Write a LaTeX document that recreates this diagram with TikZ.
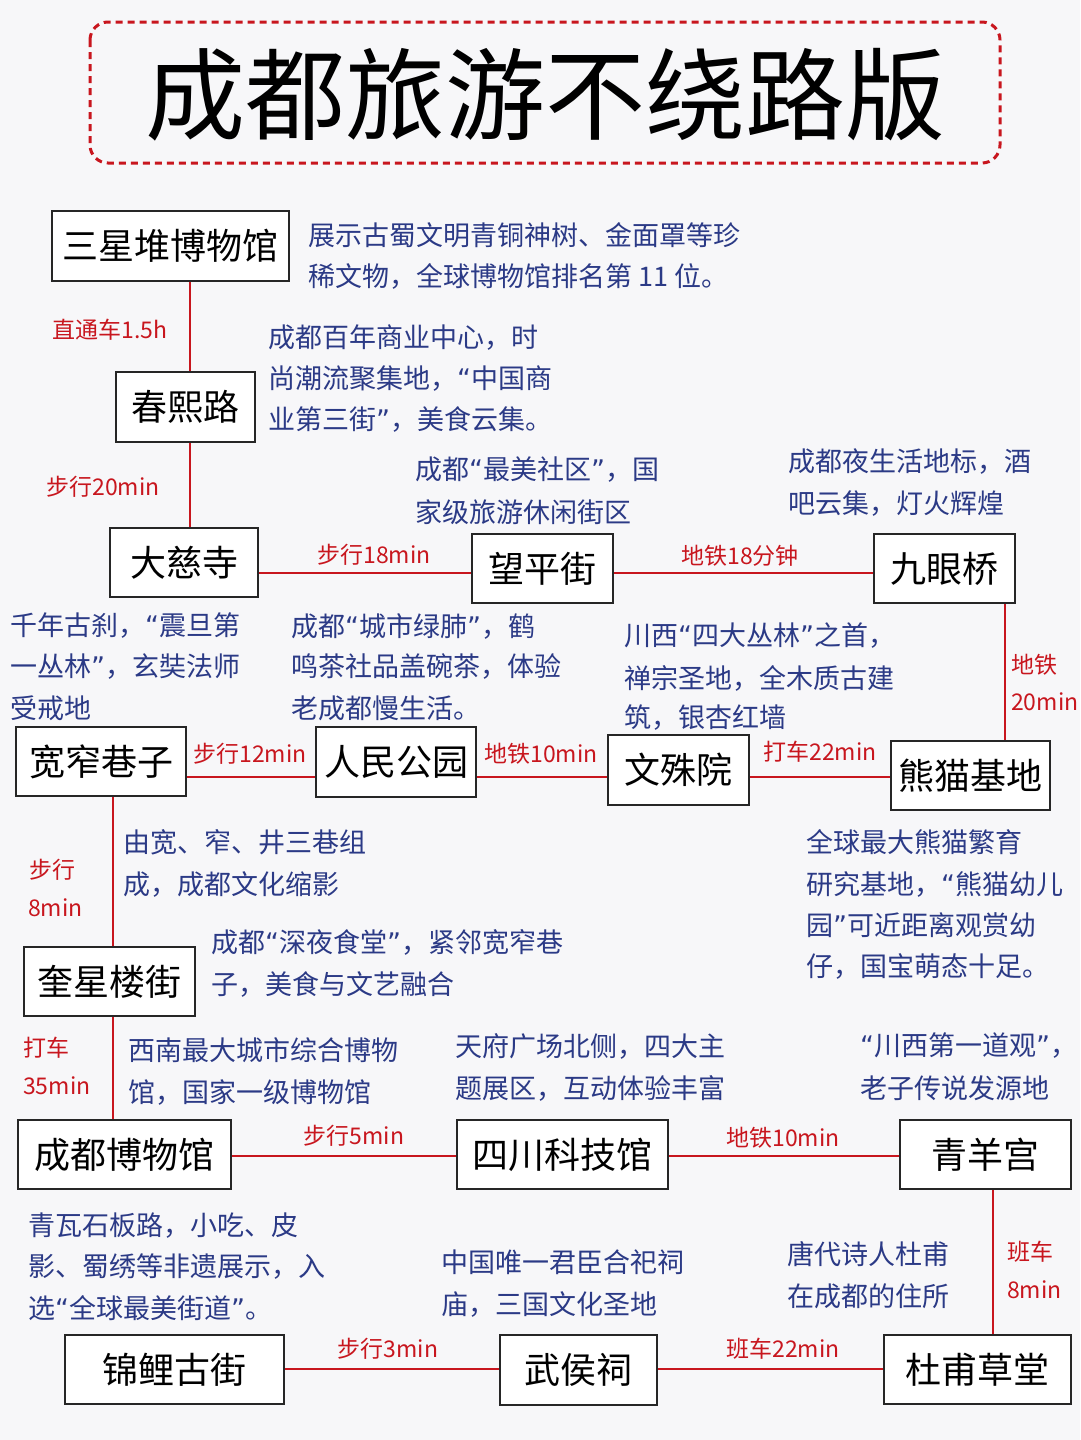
\documentclass[tikz,border=0pt]{standalone}
\usepackage{fontspec}
\setmainfont{Noto Sans CJK SC}
\newfontfamily\latq{DejaVu Sans}
\newcommand{\lqq}{{\latq “}}
\newcommand{\rqq}{{\latq ”}}
\definecolor{bgc}{HTML}{F7F7F9}
\definecolor{redc}{HTML}{C8161E}
\definecolor{bluec}{HTML}{2B3A86}
\tikzset{
 box/.style={draw=black!85,line width=1.3pt,fill=white,inner sep=0pt,font=\fontsize{36}{36}\selectfont},
 desc/.style={anchor=west,inner sep=0pt,text=bluec,font=\fontsize{27}{27}\selectfont},
 lab/.style={inner sep=0pt,text=redc,font=\fontsize{23}{23}\selectfont},
 con/.style={draw=redc,line width=2.2pt}
}
\newcommand{\bx}[5]{\node[box,minimum width=#3-#1,minimum height=#4-#2] (#5) at ({(#1+#3)/2},{(#2+#4)/2})}
\begin{document}
\begin{tikzpicture}[x=1pt,y=-1pt]
\fill[bgc] (0,0) rectangle (1080,1440);
\useasboundingbox (0,0) rectangle (1080,1440);
\draw[redc,dashed,line width=3pt,dash pattern=on 7pt off 5pt,rounded corners=18pt] (90,22) rectangle (1000,163);
\node[font=\fontsize{100}{100}\selectfont] (title) at (545,95) {成都旅游不绕路版};
% connectors first
\coordinate (a1) at (190,281); \coordinate (a2) at (190,372);
\coordinate (a3) at (190,442); \coordinate (a4) at (190,528);
\draw[con] (a1) -- (a2); \draw[con] (a3) -- (a4);
\coordinate (b1) at (258,573); \coordinate (b2) at (472,573); \coordinate (b3) at (613,573); \coordinate (b4) at (874,573);
\draw[con] (b1) -- (b2); \draw[con] (b3) -- (b4);
\coordinate (c1) at (1005,603); \coordinate (c2) at (1005,741);
\draw[con] (c1) -- (c2);
\coordinate (d1) at (186,777); \coordinate (d2) at (316,777); \coordinate (d3) at (476,777); \coordinate (d4) at (608,777); \coordinate (d5) at (749,777); \coordinate (d6) at (891,777);
\draw[con] (d1) -- (d2); \draw[con] (d3) -- (d4); \draw[con] (d5) -- (d6);
\coordinate (e1) at (113,796); \coordinate (e2) at (113,947); \coordinate (e3) at (113,1016); \coordinate (e4) at (113,1120);
\draw[con] (e1) -- (e2); \draw[con] (e3) -- (e4);
\coordinate (f1) at (231,1156); \coordinate (f2) at (457,1156); \coordinate (f3) at (668,1156); \coordinate (f4) at (900,1156);
\draw[con] (f1) -- (f2); \draw[con] (f3) -- (f4);
\coordinate (g1) at (993,1189); \coordinate (g2) at (993,1335);
\draw[con] (g1) -- (g2);
\coordinate (h1) at (284,1369); \coordinate (h2) at (500,1369); \coordinate (h3) at (657,1369); \coordinate (h4) at (884,1369);
\draw[con] (h1) -- (h2); \draw[con] (h3) -- (h4);
% boxes
\bx{52}{211}{289}{281}{sxd} {三星堆博物馆};
\bx{116}{372}{255}{442}{cxl} {春熙路};
\bx{110}{528}{258}{597}{dcs} {大慈寺};
\bx{472}{534}{613}{603}{wpj} {望平街};
\bx{874}{534}{1015}{603}{jyq} {九眼桥};
\bx{16}{727}{186}{796}{kzxz} {宽窄巷子};
\bx{316}{727}{476}{797}{rmgy} {人民公园};
\bx{608}{735}{749}{805}{wsy} {文殊院};
\bx{891}{741}{1050}{810}{xmjd} {熊猫基地};
\bx{24}{947}{195}{1016}{kxlj} {奎星楼街};
\bx{18}{1120}{231}{1189}{cdbwg} {成都博物馆};
\bx{457}{1120}{668}{1189}{sckjg} {四川科技馆};
\bx{900}{1120}{1071}{1189}{qyg} {青羊宫};
\bx{65}{1335}{284}{1404}{jlgj} {锦鲤古街};
\bx{500}{1335}{657}{1405}{whc} {武侯祠};
\bx{884}{1335}{1071}{1404}{dfct} {杜甫草堂};
% red labels
\node[lab] (l1) at (110,330) {直通车1.5h};
\node[lab] (l2) at (103,487) {步行20min};
\node[lab] (l3) at (374,555) {步行18min};
\node[lab] (l4) at (740,556) {地铁18分钟};
\node[lab,anchor=west] (l5a) at (1011,665) {地铁};
\node[lab,anchor=west] (l5b) at (1011,702) {20min};
\node[lab] (l6) at (250,754) {步行12min};
\node[lab] (l7) at (541,754) {地铁10min};
\node[lab] (l8) at (820,752) {打车22min};
\node[lab,anchor=west] (l9a) at (29,870) {步行};
\node[lab,anchor=west] (l9b) at (28,908) {8min};
\node[lab,anchor=west] (l10a) at (23,1048) {打车};
\node[lab,anchor=west] (l10b) at (23,1086) {35min};
\node[lab] (l11) at (354,1136) {步行5min};
\node[lab] (l12) at (783,1138) {地铁10min};
\node[lab,anchor=west] (l13a) at (1007,1252) {班车};
\node[lab,anchor=west] (l13b) at (1007,1290) {8min};
\node[lab] (l14) at (388,1349) {步行3min};
\node[lab] (l15) at (783,1349) {班车22min};
% descriptions
\node[desc] (t1a) at (308,235) {展示古蜀文明青铜神树、金面罩等珍};
\node[desc] (t1b) at (308,276) {稀文物，全球博物馆排名第 11 位。};
\node[desc] (t2a) at (268,338) {成都百年商业中心，时};
\node[desc] (t2b) at (268,379) {尚潮流聚集地，\lqq 中国商};
\node[desc] (t2c) at (268,420) {业第三街\rqq，美食云集。};
\node[desc] (t3a) at (415,470) {成都\lqq 最美社区\rqq，国};
\node[desc] (t3b) at (415,512) {家级旅游休闲街区};
\node[desc] (t4a) at (788,462) {成都夜生活地标，酒};
\node[desc] (t4b) at (788,504) {吧云集，灯火辉煌};
\node[desc] (t5a) at (10,626) {千年古刹，\lqq 震旦第};
\node[desc] (t5b) at (10,667) {一丛林\rqq，玄奘法师};
\node[desc] (t5c) at (10,708) {受戒地};
\node[desc] (t6a) at (291,626) {成都\lqq 城市绿肺\rqq，鹤};
\node[desc] (t6b) at (291,667) {鸣茶社品盖碗茶，体验};
\node[desc] (t6c) at (291,708) {老成都慢生活。};
\node[desc] (t7a) at (624,636) {川西\lqq 四大丛林\rqq 之首，};
\node[desc] (t7b) at (624,678) {禅宗圣地，全木质古建};
\node[desc] (t7c) at (624,718) {筑，银杏红墙};
\node[desc] (t8a) at (123,842) {由宽、窄、井三巷组};
\node[desc] (t8b) at (123,884) {成，成都文化缩影};
\node[desc] (t9a) at (806,842) {全球最大熊猫繁育};
\node[desc] (t9b) at (806,884) {研究基地，\lqq 熊猫幼儿};
\node[desc] (t9c) at (806,925) {园\rqq 可近距离观赏幼};
\node[desc] (t9d) at (806,966) {仔，国宝萌态十足。};
\node[desc] (t10a) at (211,942) {成都\lqq 深夜食堂\rqq，紧邻宽窄巷};
\node[desc] (t10b) at (211,984) {子，美食与文艺融合};
\node[desc] (t11a) at (128,1050) {西南最大城市综合博物};
\node[desc] (t11b) at (128,1092) {馆，国家一级博物馆};
\node[desc] (t12a) at (455,1046) {天府广场北侧，四大主};
\node[desc] (t12b) at (455,1088) {题展区，互动体验丰富};
\node[desc] (t13a) at (860,1046) {\lqq 川西第一道观\rqq，};
\node[desc] (t13b) at (860,1088) {老子传说发源地};
\node[desc] (t14a) at (28,1226) {青瓦石板路，小吃、皮};
\node[desc] (t14b) at (28,1267) {影、蜀绣等非遗展示，入};
\node[desc] (t14c) at (28,1308) {选\lqq 全球最美街道\rqq。};
\node[desc] (t15a) at (441,1262) {中国唯一君臣合祀祠};
\node[desc] (t15b) at (441,1304) {庙，三国文化圣地};
\node[desc] (t16a) at (787,1254) {唐代诗人杜甫};
\node[desc] (t16b) at (787,1296) {在成都的住所};
\end{tikzpicture}
\end{document}
